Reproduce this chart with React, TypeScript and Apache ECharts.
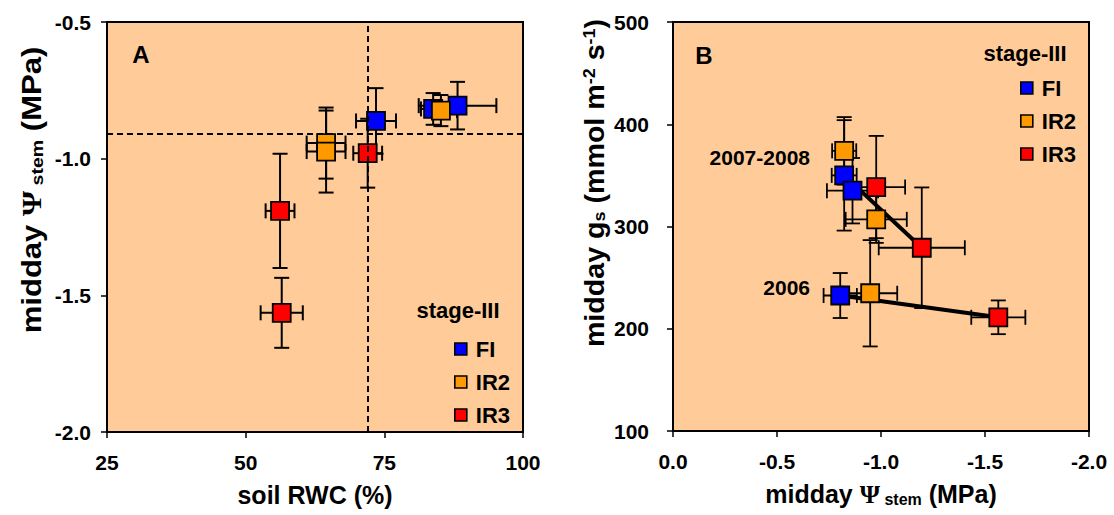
import React, { useEffect, useRef } from "react";
import * as echarts from "echarts";

const groupNames = ["FI", "IR2", "IR3"];
const groupColors = ["#0000FF", "#FF9900", "#FF0000"];

// ---- Panel A: soil RWC (%) vs midday stem water potential (MPa)
const rwcFI = [73.5, 88.2, 83.8];
const rwcErrFI = [3.6, 7.0, 2.2];
const psiFI_A = [-0.862, -0.806, -0.818];
const psiErrFI_A = [0.12, 0.087, 0.058];

const rwcIR2 = [64.5, 64.5, 85.2];
const rwcErrIR2 = [3.5, 3.5, 2.9];
const psiIR2_A = [-0.943, -0.974, -0.824];
const psiErrIR2_A = [0.13, 0.15, 0.057];

const rwcIR3 = [72.0, 56.2, 56.5];
const rwcErrIR3 = [2.6, 2.6, 3.8];
const psiIR3_A = [-0.98, -1.191, -1.564];
const psiErrIR3_A = [0.126, 0.209, 0.128];

const refRwc = 72.0;
const refPsi = -0.914;

const rwcTicks = [25, 50, 75, 100];
const psiTicksA = [-2.0, -1.5, -1.0, -0.5];

// ---- Panel B: midday stem water potential (MPa) vs midday gs
const psiFI_B = [-0.823, -0.863, -0.804];
const psiErrFI_B = [0.06, 0.123, 0.08];
const gsFI = [350, 335, 232.5];
const gsErrFI = [54, 32, 22];

const psiIR2_B = [-0.823, -0.977, -0.948];
const psiErrIR2_B = [0.058, 0.147, 0.13];
const gsIR2 = [374, 307, 234.7];
const gsErrIR2 = [33, 23, 52];

const psiIR3_B = [-0.977, -1.196, -1.564];
const psiErrIR3_B = [0.139, 0.207, 0.13];
const gsIR3 = [338.6, 279.2, 211.2];
const gsErrIR3 = [50, 59, 16.5];

const line0708Psi = [-0.823, -1.196];
const line0708Gs = [350, 279.2];
const line2006Psi = [-0.804, -1.564];
const line2006Gs = [232.5, 211.2];

const psiTicksB = [0.0, -0.5, -1.0, -1.5, -2.0];
const gsTicks = [100, 200, 300, 400, 500];

const FONT = '"Liberation Sans", Arial, Helvetica, sans-serif';
const SERIF = '"Liberation Serif", "Times New Roman", serif';
const BG = "#FFCC99";

function zip(xs: number[], ys: number[], xe: number[], ye: number[]) {
  return xs.map((x, i) => [x, ys[i], xe[i], ye[i]]);
}

function errRender(cap: number, lw: number) {
  return (params: any, api: any) => {
    const x = api.value(0);
    const y = api.value(1);
    const xe = api.value(2);
    const ye = api.value(3);
    const c = api.coord([x, y]);
    const l = api.coord([x - xe, y]);
    const r = api.coord([x + xe, y]);
    const t = api.coord([x, y + ye]);
    const b = api.coord([x, y - ye]);
    const h = cap / 2;
    const style = { stroke: "#000", lineWidth: lw, fill: null };
    const ln = (x1: number, y1: number, x2: number, y2: number) => ({
      type: "line",
      shape: { x1, y1, x2, y2 },
      style,
    });
    return {
      type: "group",
      children: [
        ln(l[0], c[1], r[0], c[1]),
        ln(l[0], c[1] - h, l[0], c[1] + h),
        ln(r[0], c[1] - h, r[0], c[1] + h),
        ln(c[0], t[1], c[0], b[1]),
        ln(c[0] - h, t[1], c[0] + h, t[1]),
        ln(c[0] - h, b[1], c[0] + h, b[1]),
      ],
    };
  };
}

const axisLabelBase = {
  fontSize: 21,
  fontWeight: "bold" as const,
  color: "#000",
  fontFamily: FONT,
};

export default function App() {
  const ref = useRef<HTMLDivElement>(null);

  useEffect(() => {
    if (!ref.current) return;
    const chart = echarts.init(ref.current, undefined, { renderer: "svg" });

    const dataA = [
      zip(rwcFI, psiFI_A, rwcErrFI, psiErrFI_A),
      zip(rwcIR2, psiIR2_A, rwcErrIR2, psiErrIR2_A),
      zip(rwcIR3, psiIR3_A, rwcErrIR3, psiErrIR3_A),
    ];
    const dataB = [
      zip(psiFI_B, gsFI, psiErrFI_B, gsErrFI),
      zip(psiIR2_B, gsIR2, psiErrIR2_B, gsErrIR2),
      zip(psiIR3_B, gsIR3, psiErrIR3_B, gsErrIR3),
    ];

    const series: any[] = [];
    series.push({
      type: "custom",
      name: "errA",
      xAxisIndex: 0,
      yAxisIndex: 0,
      renderItem: errRender(15, 2),
      data: [...dataA[0], ...dataA[1], ...dataA[2]],
      encode: { x: 0, y: 1 },
      z: 2,
      silent: true,
      markLine: {
        silent: true,
        symbol: ["none", "none"],
        label: { show: false },
        lineStyle: { color: "#000", width: 2, type: [6, 4], opacity: 1 },
        data: [{ xAxis: refRwc }, { yAxis: refPsi }],
      },
    });
    series.push({
      type: "custom",
      name: "errB",
      xAxisIndex: 1,
      yAxisIndex: 1,
      renderItem: errRender(15, 1.8),
      data: [...dataB[0], ...dataB[1], ...dataB[2]],
      encode: { x: 0, y: 1 },
      z: 2,
      silent: true,
    });
    series.push({
      type: "line",
      name: "2007-2008 line",
      xAxisIndex: 1,
      yAxisIndex: 1,
      data: line0708Psi.map((p, i) => [p, line0708Gs[i]]),
      symbol: "none",
      lineStyle: { color: "#000", width: 4 },
      z: 3,
      silent: true,
    });
    series.push({
      type: "line",
      name: "2006 line",
      xAxisIndex: 1,
      yAxisIndex: 1,
      data: line2006Psi.map((p, i) => [p, line2006Gs[i]]),
      symbol: "none",
      lineStyle: { color: "#000", width: 4 },
      z: 3,
      silent: true,
    });
    groupNames.forEach((name, gi) => {
      const itemStyle = {
        color: groupColors[gi],
        borderColor: "#000",
        borderWidth: 1.8,
        opacity: 1,
      };
      series.push({
        type: "scatter",
        name,
        xAxisIndex: 0,
        yAxisIndex: 0,
        symbol: "rect",
        symbolSize: 18,
        itemStyle,
        data: dataA[gi].map((d) => [d[0], d[1]]),
        z: 4,
      });
      series.push({
        type: "scatter",
        name,
        xAxisIndex: 1,
        yAxisIndex: 1,
        symbol: "rect",
        symbolSize: 18,
        itemStyle,
        data: dataB[gi].map((d) => [d[0], d[1]]),
        z: 4,
      });
    });

    const legendBase = {
      orient: "vertical",
      icon: "rect",
      itemWidth: 12,
      itemHeight: 12,
      itemGap: 11,
      selectedMode: false,
      data: groupNames,
      itemStyle: { opacity: 1, borderColor: "#000", borderWidth: 1.6 },
      textStyle: {
        fontSize: 22,
        fontWeight: "bold",
        color: "#000",
        fontFamily: FONT,
        padding: [0, 0, 0, 4],
      },
    };

    const titleRich = {
      n: { fontSize: 25, fontWeight: "bold", fontFamily: FONT, color: "#000" },
      p: { fontSize: 26, fontWeight: "bold", fontFamily: SERIF, color: "#000" },
      s: {
        fontSize: 16,
        fontWeight: "bold",
        fontFamily: FONT,
        color: "#000",
        verticalAlign: "bottom",
        padding: [8, 0, 0, 0],
      },
    };

    const yTitleRich = {
      n: { fontSize: 27, fontWeight: "bold", fontFamily: FONT, fill: "#000" },
      p: { fontSize: 28, fontWeight: "bold", fontFamily: SERIF, fill: "#000" },
      s: {
        fontSize: 17,
        fontWeight: "bold",
        fontFamily: FONT,
        fill: "#000",
        padding: [9, 0, 0, 0],
      },
      sup: {
        fontSize: 17,
        fontWeight: "bold",
        fontFamily: FONT,
        fill: "#000",
        padding: [0, 0, 12, 0],
      },
    };

    const txt = (
      text: string,
      x: number,
      y: number,
      fontSize: number,
      align: string = "center"
    ) => ({
      type: "text",
      x,
      y,
      silent: true,
      z: 10,
      style: {
        text,
        fontSize,
        fontWeight: "bold",
        fontFamily: FONT,
        fill: "#000",
        align,
        verticalAlign: "middle",
      },
    });

    const option: any = {
      animation: false,
      backgroundColor: "#fff",
      grid: [
        {
          left: 107,
          top: 22,
          width: 416,
          height: 410,
          show: true,
          backgroundColor: BG,
          borderColor: "#000",
          borderWidth: 2,
        },
        {
          left: 673,
          top: 22,
          width: 416,
          height: 409,
          show: true,
          backgroundColor: BG,
          borderColor: "#000",
          borderWidth: 2,
        },
      ],
      xAxis: [
        {
          type: "value",
          gridIndex: 0,
          min: rwcTicks[0],
          max: rwcTicks[rwcTicks.length - 1],
          interval: rwcTicks[1] - rwcTicks[0],
          name: "soil RWC (%)",
          nameLocation: "middle",
          nameGap: 50,
          nameTextStyle: {
            fontSize: 25,
            fontWeight: "bold",
            color: "#000",
            fontFamily: FONT,
          },
          axisLine: { show: true, lineStyle: { color: "#000", width: 2 } },
          axisTick: { show: true, length: 6, lineStyle: { color: "#000", width: 1.5 } },
          splitLine: { show: false },
          axisLabel: { ...axisLabelBase, margin: 20 },
        },
        {
          type: "value",
          gridIndex: 1,
          min: psiTicksB[psiTicksB.length - 1],
          max: psiTicksB[0],
          interval: 0.5,
          inverse: true,
          name: "{n|midday }{p|Ψ}{s| stem}{n| (MPa)}",
          nameLocation: "middle",
          nameGap: 50,
          nameTextStyle: { rich: titleRich },
          axisLine: { show: true, lineStyle: { color: "#000", width: 2 } },
          axisTick: { show: true, length: 6, lineStyle: { color: "#000", width: 1.5 } },
          splitLine: { show: false },
          axisLabel: {
            ...axisLabelBase,
            margin: 20,
            formatter: (v: number) => (Math.abs(v) < 1e-9 ? "0.0" : v.toFixed(1)),
          },
        },
      ],
      yAxis: [
        {
          type: "value",
          gridIndex: 0,
          min: psiTicksA[0],
          max: psiTicksA[psiTicksA.length - 1],
          interval: 0.5,
          axisLine: { show: true, lineStyle: { color: "#000", width: 2 } },
          axisTick: { show: true, length: 6, lineStyle: { color: "#000", width: 1.5 } },
          splitLine: { show: false },
          axisLabel: {
            ...axisLabelBase,
            margin: 16,
            formatter: (v: number) => v.toFixed(1),
          },
        },
        {
          type: "value",
          gridIndex: 1,
          min: gsTicks[0],
          max: gsTicks[gsTicks.length - 1],
          interval: 100,
          axisLine: { show: true, lineStyle: { color: "#000", width: 2 } },
          axisTick: { show: true, length: 6, lineStyle: { color: "#000", width: 1.5 } },
          splitLine: { show: false },
          axisLabel: { ...axisLabelBase, margin: 24 },
        },
      ],
      legend: [
        { ...legendBase, left: 449, top: 333 },
        { ...legendBase, left: 1015, top: 72 },
      ],
      graphic: [
        txt("A", 141, 54, 24),
        txt("B", 704, 55, 24),
        txt("stage-III", 458, 310, 22),
        txt("stage-III", 1025, 53, 22),
        txt("2007-2008", 810, 157, 21, "right"),
        txt("2006", 810, 287, 21, "right"),
        {
          type: "text",
          x: 32,
          y: 190,
          rotation: Math.PI / 2,
          scaleX: 1.15,
          silent: true,
          z: 10,
          style: {
            text: "{n|midday }{p|Ψ}{s| stem}{n| (MPa)}",
            rich: yTitleRich,
            fontSize: 27,
            fontWeight: "bold",
            fontFamily: FONT,
            fill: "#000",
            align: "center",
            verticalAlign: "middle",
          },
        },
        {
          type: "text",
          x: 595,
          y: 183,
          rotation: Math.PI / 2,
          scaleX: 1.06,
          silent: true,
          z: 10,
          style: {
            text: "{n|midday g}{s|s}{n| (mmol m}{sup|-2}{n| s}{sup|-1}{n|)}",
            rich: yTitleRich,
            fontSize: 27,
            fontWeight: "bold",
            fontFamily: FONT,
            fill: "#000",
            align: "center",
            verticalAlign: "middle",
          },
        },
      ],
      series,
    };

    chart.setOption(option);
    return () => chart.dispose();
  }, []);

  return (
    <div
      ref={ref}
      style={{ position: "fixed", left: 0, top: 0, width: 1114, height: 515 }}
    />
  );
}
